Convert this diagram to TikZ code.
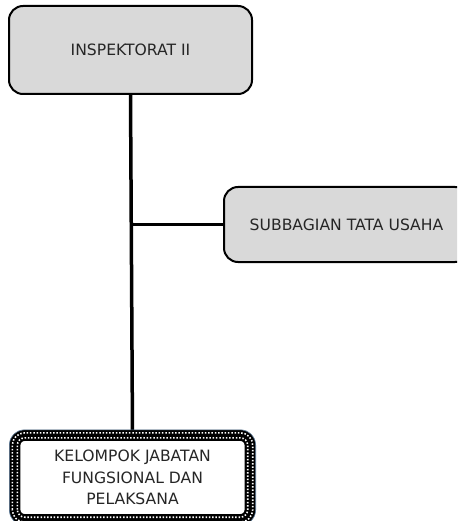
\documentclass[tikz,border=0pt]{standalone}
\usepackage{fontspec}
\setmainfont{DejaVu Sans}
\definecolor{edgeblue}{RGB}{90,120,150}
\begin{document}
\begin{tikzpicture}[x=1pt,y=-1pt,
  txt/.style={font=\fontsize{15.6}{21.7}\selectfont, text=black!85},
  graybox/.style={txt, draw=black, line width=2pt, fill=gray!30, rounded corners=14pt, align=center, inner sep=0pt},
  conn/.style={line width=3.5pt, black},
  dotrow/.style={line width=1.6pt, white, dash pattern=on 1.5pt off 1.8pt}
]
\useasboundingbox (0,0) rectangle (457,521);
\clip (0,0) rectangle (457,521);
\node[graybox, minimum width=243pt, minimum height=88pt] (ins) at (130.5,50) {INSPEKTORAT II};
\node[graybox, minimum width=245pt, minimum height=75pt] (sub) at (346.5,224.5) {SUBBAGIAN TATA USAHA};
\node[txt, align=center, minimum width=235pt, minimum height=84pt, inner sep=0pt] (kel) at (132.5,477.5) {};
\coordinate (j) at (ins.south |- sub.west);
\draw[conn] (ins.south) -- (kel.north);
\draw[conn] (j) -- (sub.west);
% patterned border of the bottom box
\fill[white, rounded corners=10pt] (kel.south west) rectangle (kel.north east);
\draw[line width=11pt, black, rounded corners=10pt] (kel.south west) rectangle (kel.north east);
\draw[line width=0.6pt, edgeblue, rounded corners=15.5pt] ([shift={(-5.5pt,-5.5pt)}]kel.south west) rectangle ([shift={(5.5pt,5.5pt)}]kel.north east);
\draw[dotrow, rounded corners=12.5pt] ([shift={(-2.5pt,-2.5pt)}]kel.south west) rectangle ([shift={(2.5pt,2.5pt)}]kel.north east);
\draw[dotrow, rounded corners=7.5pt] ([shift={(2.5pt,2.5pt)}]kel.south west) rectangle ([shift={(-2.5pt,-2.5pt)}]kel.north east);
\node[txt, align=center] (keltext) at (kel.center) {KELOMPOK JABATAN\\FUNGSIONAL DAN\\PELAKSANA};
\end{tikzpicture}
\end{document}
